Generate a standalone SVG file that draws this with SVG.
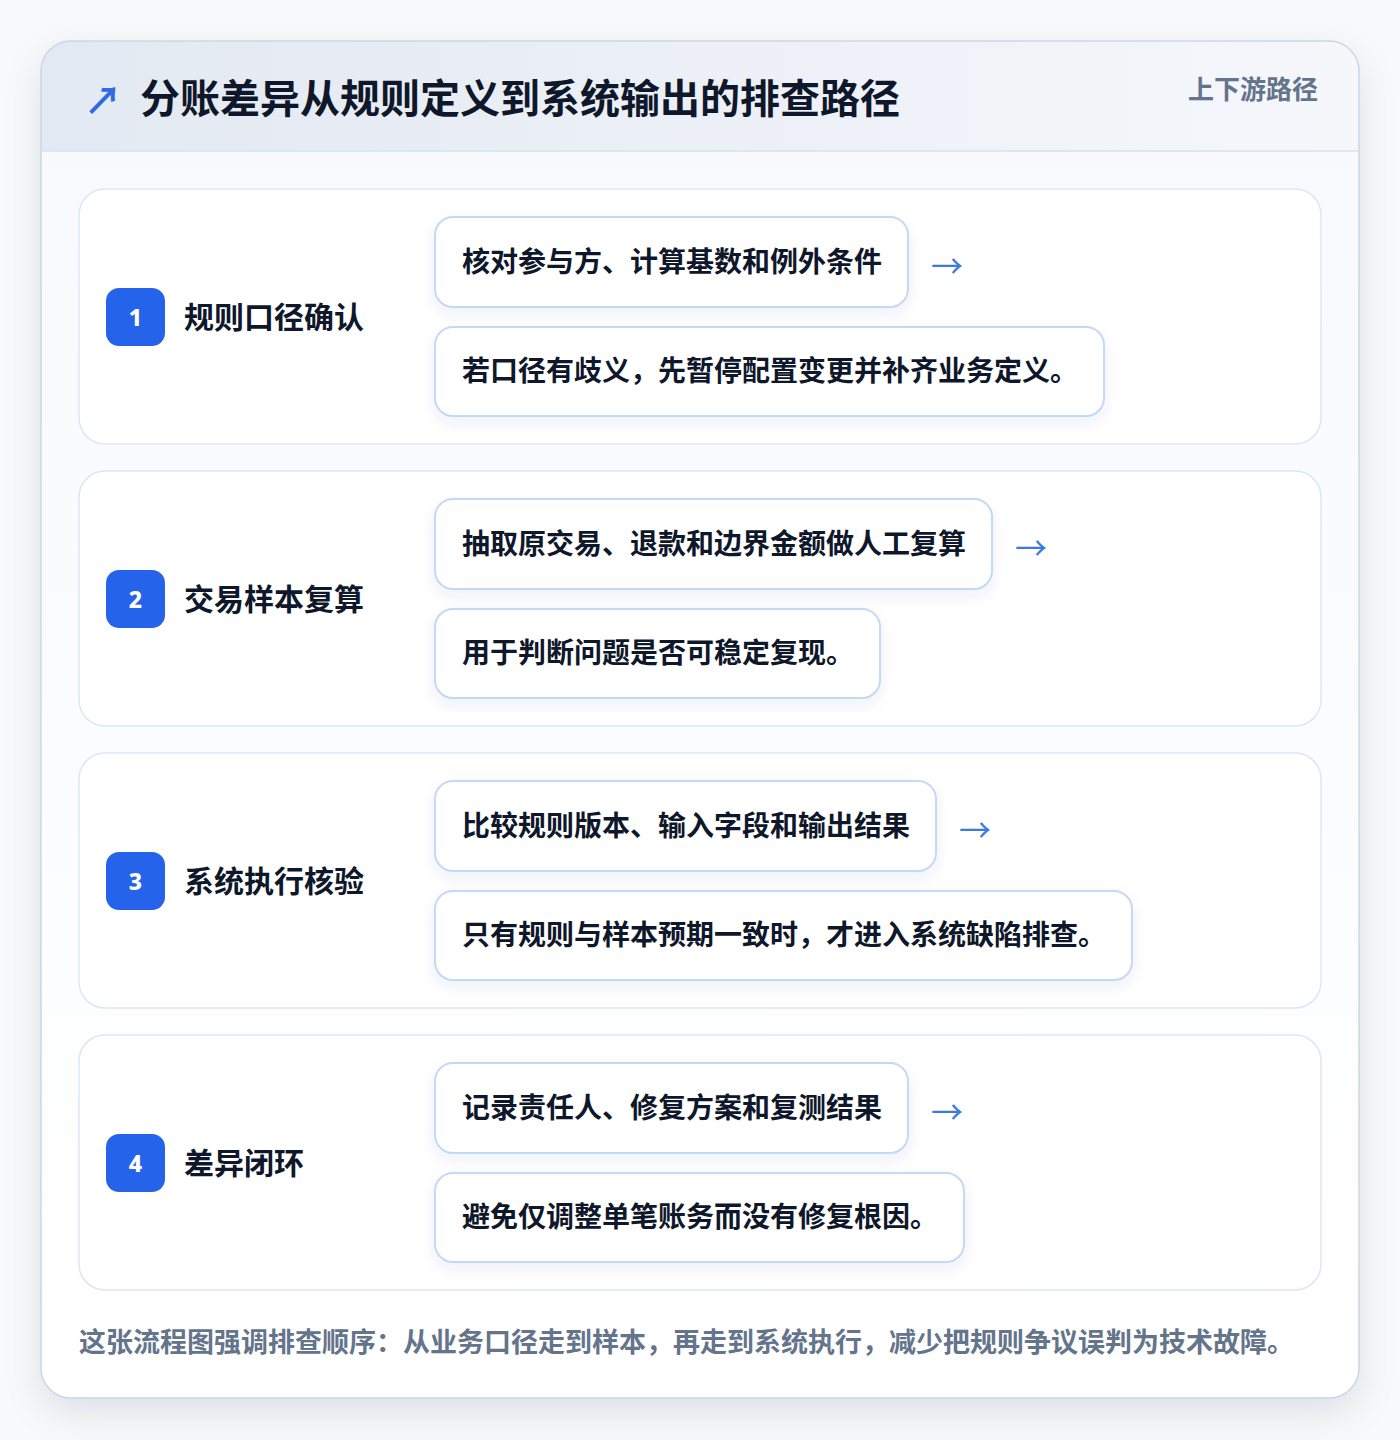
<svg xmlns="http://www.w3.org/2000/svg" width="1400" height="1440" viewBox="0 0 1400 1440">
<defs>
<linearGradient id="hdr" x1="0" y1="0" x2="1" y2="0"><stop offset="0" stop-color="#e3e9f2"/><stop offset="1" stop-color="#f5f7fb"/></linearGradient>
<linearGradient id="body" x1="0" y1="0" x2="0" y2="1"><stop offset="0" stop-color="#f7f9fc"/><stop offset="1" stop-color="#ffffff"/></linearGradient>
<filter id="cardShadow" x="-10%" y="-10%" width="120%" height="120%"><feDropShadow dx="0" dy="14" stdDeviation="18" flood-color="#0f172a" flood-opacity="0.10"/></filter>
<filter id="boxShadow" x="-10%" y="-20%" width="120%" height="160%"><feDropShadow dx="0" dy="6" stdDeviation="7" flood-color="#1e3a8a" flood-opacity="0.07"/></filter>
<clipPath id="cardClip"><rect x="41" y="41" width="1318" height="1357" rx="30"/></clipPath>
<style>
.cjk{font-family:"Noto Sans CJK SC","Noto Sans",sans-serif;font-weight:700}
.title{font-size:40px;fill:#0f172a}
.tag{font-size:26px;fill:#64748b}
.sec{fill:#ffffff;stroke:#dbe7f6;stroke-width:1.5}
.badge{fill:#2563eb}
.num{font-family:"Noto Sans","Liberation Sans",sans-serif;font-weight:800;font-size:23px;fill:#ffffff}
.lbl{font-size:30px;fill:#0f172a}
.box{fill:#ffffff;stroke:#c3d9f5;stroke-width:2}
.btxt{font-size:28px;fill:#0f172a}
.arr{font-family:"Noto Sans CJK SC",sans-serif;font-weight:400;font-size:32px;fill:#3b7be0}
.foot{font-size:27px;fill:#64748b}
</style>
</defs>
<rect width="1400" height="1440" fill="#f8f9fb"/>
<g id="card">
<rect x="41" y="41" width="1318" height="1357" rx="30" fill="url(#body)" filter="url(#cardShadow)"/>
<g clip-path="url(#cardClip)">
<rect x="41" y="41" width="1318" height="110" fill="url(#hdr)"/>
</g>
<line x1="41" y1="151" x2="1359" y2="151" stroke="#dbe7f6" stroke-width="2"/>
<rect x="41" y="41" width="1318" height="1357" rx="30" fill="none" stroke="#cdd6e3" stroke-width="1.5"/>
</g>
<g id="header">
<text x="84" y="114" style="font-size:38px;fill:#2f6ae0;font-family:'Noto Sans CJK SC',sans-serif;font-weight:700">↗</text>
<text x="140" y="113" class="cjk title">分账差异从规则定义到系统输出的排查路径</text>
<text x="1318" y="99" text-anchor="end" class="cjk tag">上下游路径</text>
</g>
<g id="step1">
<rect x="79" y="189" width="1242" height="255" rx="26" class="sec"/>
<rect x="106" y="288" width="59" height="58" rx="13" class="badge"/>
<text x="135.5" y="326" text-anchor="middle" class="num">1</text>
<text x="184" y="328" class="cjk lbl">规则口径确认</text>
<g id="step1-a"><rect x="435" y="217" width="473" height="90" rx="18" class="box" filter="url(#boxShadow)"/>
<text x="462" y="272" class="cjk btxt">核对参与方、计算基数和例外条件</text></g>
<g id="step1-b"><rect x="435" y="327" width="669" height="89" rx="18" class="box" filter="url(#boxShadow)"/>
<text x="462" y="381" class="cjk btxt">若口径有歧义，先暂停配置变更并补齐业务定义。</text></g>
</g>
<g id="step2">
<rect x="79" y="471" width="1242" height="255" rx="26" class="sec"/>
<rect x="106" y="570" width="59" height="58" rx="13" class="badge"/>
<text x="135.5" y="608" text-anchor="middle" class="num">2</text>
<text x="184" y="610" class="cjk lbl">交易样本复算</text>
<g id="step2-a"><rect x="435" y="499" width="557" height="90" rx="18" class="box" filter="url(#boxShadow)"/>
<text x="462" y="554" class="cjk btxt">抽取原交易、退款和边界金额做人工复算</text></g>
<g id="step2-b"><rect x="435" y="609" width="445" height="89" rx="18" class="box" filter="url(#boxShadow)"/>
<text x="462" y="663" class="cjk btxt">用于判断问题是否可稳定复现。</text></g>
</g>
<g id="step3">
<rect x="79" y="753" width="1242" height="255" rx="26" class="sec"/>
<rect x="106" y="852" width="59" height="58" rx="13" class="badge"/>
<text x="135.5" y="890" text-anchor="middle" class="num">3</text>
<text x="184" y="892" class="cjk lbl">系统执行核验</text>
<g id="step3-a"><rect x="435" y="781" width="501" height="90" rx="18" class="box" filter="url(#boxShadow)"/>
<text x="462" y="836" class="cjk btxt">比较规则版本、输入字段和输出结果</text></g>
<g id="step3-b"><rect x="435" y="891" width="697" height="89" rx="18" class="box" filter="url(#boxShadow)"/>
<text x="462" y="945" class="cjk btxt">只有规则与样本预期一致时，才进入系统缺陷排查。</text></g>
</g>
<g id="step4">
<rect x="79" y="1035" width="1242" height="255" rx="26" class="sec"/>
<rect x="106" y="1134" width="59" height="58" rx="13" class="badge"/>
<text x="135.5" y="1172" text-anchor="middle" class="num">4</text>
<text x="184" y="1174" class="cjk lbl">差异闭环</text>
<g id="step4-a"><rect x="435" y="1063" width="473" height="90" rx="18" class="box" filter="url(#boxShadow)"/>
<text x="462" y="1118" class="cjk btxt">记录责任人、修复方案和复测结果</text></g>
<g id="step4-b"><rect x="435" y="1173" width="529" height="89" rx="18" class="box" filter="url(#boxShadow)"/>
<text x="462" y="1227" class="cjk btxt">避免仅调整单笔账务而没有修复根因。</text></g>
</g>
<g id="connectors">
<text x="931" y="278" class="arr">→</text>
<text x="1015" y="560" class="arr">→</text>
<text x="959" y="842" class="arr">→</text>
<text x="931" y="1124" class="arr">→</text>
</g>
<text x="79" y="1352" class="cjk foot">这张流程图强调排查顺序：从业务口径走到样本，再走到系统执行，减少把规则争议误判为技术故障。</text>
</svg>
